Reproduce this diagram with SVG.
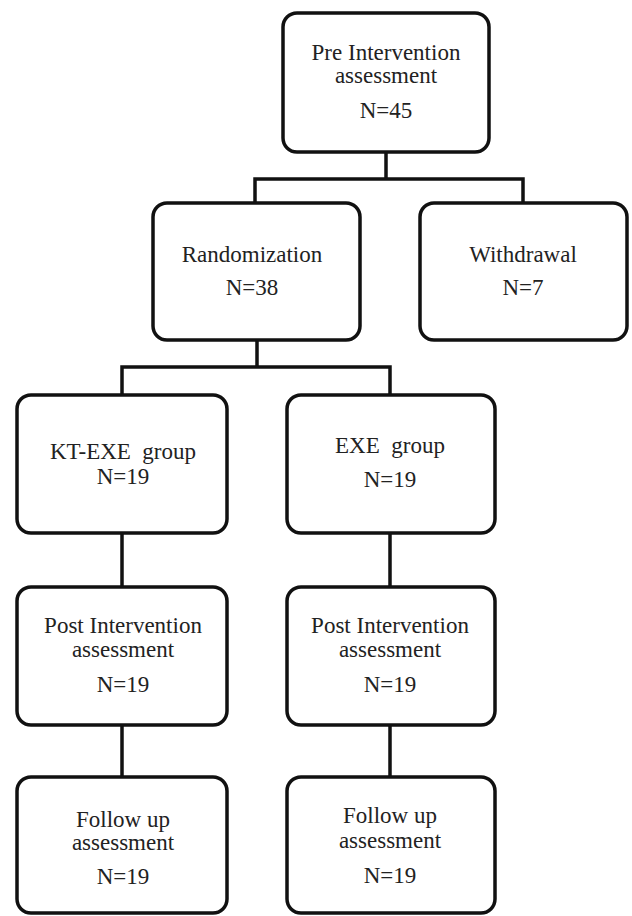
<svg xmlns="http://www.w3.org/2000/svg" width="632" height="916" viewBox="0 0 632 916">
<style>
.box{fill:#fff;stroke:#111;stroke-width:3.5}
.ln{fill:none;stroke:#111;stroke-width:3.5;stroke-linecap:square}
text{font-family:"Liberation Serif","Times New Roman",serif;font-size:23px;fill:#222;text-anchor:middle}
</style>
<rect width="632" height="916" fill="#fff"/>
<g id="connectors">
<path class="ln" d="M386 152V179M255 203V179H523V203"/>
<path class="ln" d="M257 340V367M122 395V367H390V395"/>
<path class="ln" d="M122 533V587M122 725V777"/>
<path class="ln" d="M390 533V587M390 725V777"/>
</g>
<g id="pre">
<rect class="box" x="283" y="13" width="206" height="139" rx="14"/>
<text x="386" y="60">Pre Intervention</text>
<text x="386" y="83">assessment</text>
<text x="386" y="118">N=45</text>
</g>
<g id="randomization">
<rect class="box" x="153" y="203" width="207" height="137" rx="14"/>
<text x="252" y="262">Randomization</text>
<text x="252" y="295">N=38</text>
</g>
<g id="withdrawal">
<rect class="box" x="420" y="203" width="207" height="137" rx="14"/>
<text x="523" y="262">Withdrawal</text>
<text x="523" y="295">N=7</text>
</g>
<g id="ktexe">
<rect class="box" x="17" y="395" width="210" height="138" rx="14"/>
<text x="123" y="459" xml:space="preserve">KT-EXE  group</text>
<text x="123" y="484">N=19</text>
</g>
<g id="exe">
<rect class="box" x="287" y="395" width="208" height="138" rx="14"/>
<text x="390" y="453" xml:space="preserve">EXE  group</text>
<text x="390" y="487">N=19</text>
</g>
<g id="post-left">
<rect class="box" x="17" y="587" width="210" height="138" rx="14"/>
<text x="123" y="633">Post Intervention</text>
<text x="123" y="657">assessment</text>
<text x="123" y="692">N=19</text>
</g>
<g id="post-right">
<rect class="box" x="287" y="587" width="208" height="138" rx="14"/>
<text x="390" y="633">Post Intervention</text>
<text x="390" y="657">assessment</text>
<text x="390" y="692">N=19</text>
</g>
<g id="follow-left">
<rect class="box" x="17" y="777" width="210" height="136" rx="14"/>
<text x="123" y="827">Follow up</text>
<text x="123" y="850">assessment</text>
<text x="123" y="884">N=19</text>
</g>
<g id="follow-right">
<rect class="box" x="287" y="777" width="208" height="136" rx="14"/>
<text x="390" y="823">Follow up</text>
<text x="390" y="848">assessment</text>
<text x="390" y="883">N=19</text>
</g>
</svg>
